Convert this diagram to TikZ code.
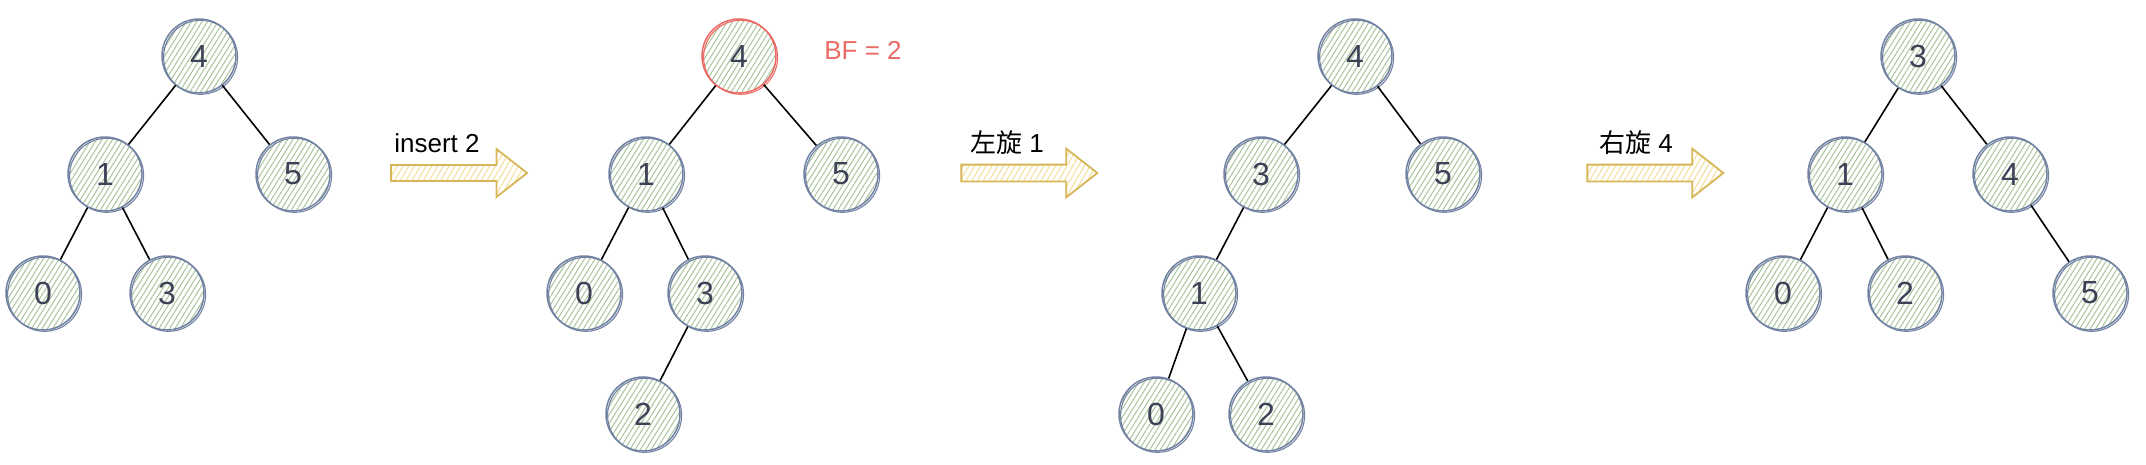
\documentclass[tikz,border=0pt]{standalone}
\usepackage{fontspec}
\setmainfont{Liberation Sans}
\newfontfamily\cjk{Noto Sans CJK SC}
\usetikzlibrary{patterns.meta,shapes.arrows}

\definecolor{ringcol}{HTML}{7182A2}
\definecolor{hatchgreen}{HTML}{A9C49A}
\definecolor{digitcol}{HTML}{3D4257}
\definecolor{bfred}{HTML}{EA6B66}
\definecolor{arrowline}{HTML}{D6B656}
\definecolor{hatchyellow}{HTML}{F3DE98}

\begin{document}
\begin{tikzpicture}[x=1pt,y=-1pt,
  tnode/.style={circle,minimum size=74pt,inner sep=0pt,draw=#1,line width=1.5pt,
    pattern={Lines[angle=58,distance=4.5pt,line width=1pt]},pattern color=hatchgreen,
    text=digitcol,font=\fontsize{32}{36}\selectfont,
    postaction={draw=#1,line width=1.1pt,transform canvas={xshift=1.6pt,yshift=-1.3pt}}},
  tnode/.default=ringcol,
  link/.style={line width=1.6pt,black},
  flow/.style={single arrow,single arrow head extend=16pt,single arrow tip angle=76,
    single arrow head indent=0pt,minimum height=136pt,minimum width=47pt,inner sep=0pt,
    text height=7.5pt,text depth=7.5pt,
    draw=arrowline,line width=1.8pt,
    pattern={Lines[angle=60,distance=5pt,line width=1pt]},pattern color=hatchyellow},
  caption/.style={font=\fontsize{26}{30}\selectfont}]

  \useasboundingbox (0,0) rectangle (2146,464);

  \def\rowa{56}
  \def\rowb{174}
  \def\rowc{293}
  \def\rowd{414}

  % tree before insertion
  \node[tnode] (a4) at (199,\rowa) {4};
  \node[tnode] (a1) at (105,\rowb) {1};
  \node[tnode] (a5) at (293,\rowb) {5};
  \node[tnode] (a0) at (43,\rowc) {0};
  \node[tnode] (a3) at (167,\rowc) {3};
  \draw[link] (a4) -- (a1);
  \draw[link] (a4) -- (a5);
  \draw[link] (a1) -- (a0);
  \draw[link] (a1) -- (a3);

  \node[flow] (go1) at (454,173) {};
  \node[caption] (t1) at (437,143) {insert 2};

  % tree after inserting 2, root out of balance
  \node[tnode=bfred] (b4) at (739,\rowa) {4};
  \node[caption,text=bfred] (bf) at (863,50) {BF = 2};
  \node[tnode] (b1) at (646,\rowb) {1};
  \node[tnode] (b5) at (841,\rowb) {5};
  \node[tnode] (b0) at (584,\rowc) {0};
  \node[tnode] (b3) at (705,\rowc) {3};
  \node[tnode] (b2) at (643,\rowd) {2};
  \draw[link] (b4) -- (b1);
  \draw[link] (b4) -- (b5);
  \draw[link] (b1) -- (b0);
  \draw[link] (b1) -- (b3);
  \draw[link] (b3) -- (b2);

  \node[flow] (go2) at (1024,173) {};
  \node[caption] (t2) at (1007,143) {{\cjk 左旋} 1};

  % after left rotation at 1
  \node[tnode] (c4) at (1355,\rowa) {4};
  \node[tnode] (c3) at (1261,\rowb) {3};
  \node[tnode] (c5) at (1443,\rowb) {5};
  \node[tnode] (c1) at (1199,\rowc) {1};
  \node[tnode] (c0) at (1156,\rowd) {0};
  \node[tnode] (c2) at (1266,\rowd) {2};
  \draw[link] (c4) -- (c3);
  \draw[link] (c4) -- (c5);
  \draw[link] (c3) -- (c1);
  \draw[link] (c1) -- (c0);
  \draw[link] (c1) -- (c2);

  \node[flow] (go3) at (1650,173) {};
  \node[caption] (t3) at (1636,143) {{\cjk 右旋} 4};

  % after right rotation at 4
  \node[tnode] (d3) at (1918,\rowa) {3};
  \node[tnode] (d1) at (1845,\rowb) {1};
  \node[tnode] (d4) at (2010,\rowb) {4};
  \node[tnode] (d0) at (1783,\rowc) {0};
  \node[tnode] (d2) at (1905,\rowc) {2};
  \node[tnode] (d5) at (2090,\rowc) {5};
  \draw[link] (d3) -- (d1);
  \draw[link] (d3) -- (d4);
  \draw[link] (d1) -- (d0);
  \draw[link] (d1) -- (d2);
  \draw[link] (d4) -- (d5);
\end{tikzpicture}
\end{document}
